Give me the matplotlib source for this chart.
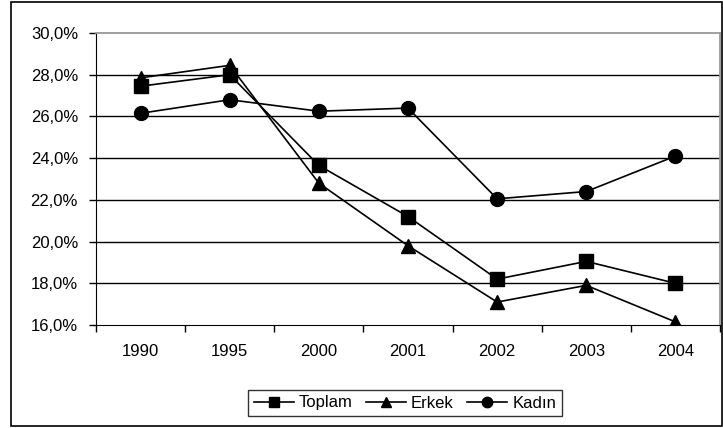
import matplotlib.pyplot as plt
from matplotlib.patches import Rectangle
from matplotlib.ticker import FuncFormatter

plt.rcParams['font.family'] = ['Liberation Sans', 'DejaVu Sans']

years = ['1990', '1995', '2000', '2001', '2002', '2003', '2004']
toplam = [27.45, 28.0, 23.65, 21.2, 18.2, 19.05, 18.0]
erkek = [27.85, 28.45, 22.8, 19.8, 17.1, 17.9, 16.15]
kadin = [26.15, 26.8, 26.25, 26.4, 22.05, 22.4, 24.1]

fig = plt.figure(figsize=(7.23, 4.28), dpi=100)
ax = fig.add_axes([96/723, 103/428, 624/723, 292/428])

x = range(len(years))
ax.plot(x, toplam, '-ks', ms=9.5, lw=1.2, label='Toplam')
ax.plot(x, erkek, '-k^', ms=10.5, lw=1.2, label='Erkek')
ax.plot(x, kadin, '-ko', ms=10, lw=1.2, label='Kadın')

ax.set_xlim(-0.5, 6.5)
ax.set_ylim(16, 30)
ax.set_yticks(range(16, 31, 2))
ax.yaxis.set_major_formatter(FuncFormatter(lambda v, p: f'{v:.1f}%'.replace('.', ',')))
ax.set_xticks(list(x))
ax.set_xticklabels(years)
ax.set_xticks([i + 0.5 for i in range(-1, 7)], minor=True)
ax.tick_params(axis='x', which='major', length=0, pad=14, labelsize=12)
ax.tick_params(axis='x', which='minor', length=5, direction='out', width=1)
ax.tick_params(axis='y', length=5, direction='out', width=1, pad=8, labelsize=12)

for v in range(18, 30, 2):
    ax.axhline(v, color='black', lw=1, zorder=0)

for s in ['left', 'bottom']:
    ax.spines[s].set_color('black')
for s in ['top', 'right']:
    ax.spines[s].set_color('#999999')
    ax.spines[s].set_linewidth(1.3)

fig.patches.append(Rectangle((11/723, 2/428), 711/723, 424/428, transform=fig.transFigure,
                             fill=False, edgecolor='black', lw=1.2))

leg = fig.legend(loc='center', bbox_to_anchor=(405/723, 25/428), ncol=3, frameon=True,
                 fancybox=False, edgecolor='black', fontsize=12, handlelength=2.4,
                 columnspacing=0.8, handletextpad=0.3, borderpad=0.35, markerscale=0.75)
leg.get_frame().set_linewidth(1)

fig.savefig('out.png', dpi=100)
